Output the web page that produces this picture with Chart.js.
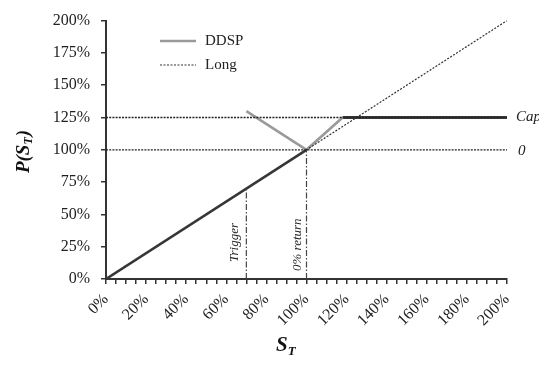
<!DOCTYPE html>
<html>
<head>
<meta charset="utf-8">
<style>
html,body{margin:0;padding:0;background:#fff;}
#wrap{width:539px;height:367px;position:relative;}
</style>
<script src="https://cdn.jsdelivr.net/npm/chart.js@4/dist/chart.umd.min.js"></script>
</head>
<body>
<div id="wrap"><canvas id="c" width="539" height="367"></canvas></div>
<script>
// ---- data ----
const xTickLabels = [0, 20, 40, 60, 80, 100, 120, 140, 160, 180, 200];
const yTickLabels = [0, 25, 50, 75, 100, 125, 150, 175, 200];
const longX = [0, 200];
const longY = [0, 200];
const lowerX = [0, 100];          // dark diagonal (below 0% return)
const lowerY = [0, 100];
const ddspX = [70, 100, 118];     // DDSP grey segment
const ddspY = [130, 100, 125];
const capFlatX = [118, 200];      // DDSP at cap
const capFlatY = [125, 125];
const capLevel = 125;
const zeroLevel = 100;
const triggerX = 70;
const triggerTop = 70;
const zeroRetX = 100;
const zeroRetTop = 100;

const pts = (xs, ys) => xs.map((x, i) => ({x: x, y: ys[i]}));
const SERIF = '"Liberation Serif", "DejaVu Serif", serif';
const DARK = '#3a3a3a';
const GREY = '#9a9a9a';

const datasets = [
  {label: 'capline', data: pts([0, 200], [capLevel, capLevel]), borderColor: '#222', borderWidth: 1.3, borderDash: [2, 1.2]},
  {label: 'zeroline', data: pts([0, 200], [zeroLevel, zeroLevel]), borderColor: '#222', borderWidth: 1.3, borderDash: [2, 1.2]},
  {label: 'trigger', data: pts([triggerX, triggerX], [0, triggerTop]), borderColor: '#444', borderWidth: 1.2, borderDash: [6, 2, 1.5, 2]},
  {label: 'zeroret', data: pts([zeroRetX, zeroRetX], [0, zeroRetTop]), borderColor: '#444', borderWidth: 1.2, borderDash: [6, 2, 1.5, 2]},
  {label: 'Long', data: pts(longX, longY), borderColor: '#333', borderWidth: 1.2, borderDash: [2, 1.5]},
  {label: 'lower', data: pts(lowerX, lowerY), borderColor: DARK, borderWidth: 2.6},
  {label: 'DDSP', data: pts(ddspX, ddspY), borderColor: GREY, borderWidth: 2.6},
  {label: 'capflat', data: pts(capFlatX, capFlatY), borderColor: DARK, borderWidth: 2.8}
];
datasets.forEach(d => { d.showLine = true; d.pointRadius = 0; d.fill = false; d.tension = 0; });

const overlay = {
  id: 'overlay',
  afterDraw(chart) {
    const ctx = chart.ctx;
    const xs = chart.scales.x, ys = chart.scales.y;
    ctx.save();
    ctx.fillStyle = '#222';
    // legend
    const lx0 = 160, lx1 = 196;
    ctx.lineCap = 'butt';
    ctx.strokeStyle = GREY; ctx.lineWidth = 2.6; ctx.setLineDash([]);
    ctx.beginPath(); ctx.moveTo(lx0, 41); ctx.lineTo(lx1, 41); ctx.stroke();
    ctx.strokeStyle = '#333'; ctx.lineWidth = 1.2; ctx.setLineDash([2, 1.5]);
    ctx.beginPath(); ctx.moveTo(lx0, 65); ctx.lineTo(lx1, 65); ctx.stroke();
    ctx.setLineDash([]);
    ctx.font = '15px ' + SERIF;
    ctx.textBaseline = 'middle'; ctx.textAlign = 'left';
    ctx.fillText('DDSP', 205, 41);
    ctx.fillText('Long', 205, 65);
    // right labels
    ctx.font = 'italic 15px ' + SERIF;
    ctx.fillText('Cap', xs.right + 9, ys.getPixelForValue(capLevel));
    ctx.fillText('0', xs.right + 11, ys.getPixelForValue(zeroLevel) + 1);
    // rotated line labels
    ctx.font = 'italic 13px ' + SERIF;
    ctx.save();
    ctx.translate(xs.getPixelForValue(triggerX) - 12, 262);
    ctx.rotate(-Math.PI / 2);
    ctx.textAlign = 'left'; ctx.textBaseline = 'middle';
    ctx.fillText('Trigger', 0, 0);
    ctx.restore();
    ctx.save();
    ctx.translate(xs.getPixelForValue(zeroRetX) - 9, 271);
    ctx.rotate(-Math.PI / 2);
    ctx.textAlign = 'left'; ctx.textBaseline = 'middle';
    ctx.fillText('0% return', 0, 0);
    ctx.restore();
    // axis titles
    ctx.fillStyle = '#111';
    ctx.save();
    ctx.translate(24, 152);
    ctx.rotate(-Math.PI / 2);
    ctx.textBaseline = 'middle'; ctx.textAlign = 'left';
    ctx.font = 'bold italic 19px ' + SERIF;
    const w1 = ctx.measureText('P(S').width;
    ctx.font = 'bold italic 12px ' + SERIF;
    const w2 = ctx.measureText('T').width;
    ctx.font = 'bold italic 19px ' + SERIF;
    const w3 = ctx.measureText(')').width;
    const total = w1 + w2 + w3;
    let sx = -total / 2;
    ctx.fillText('P(S', sx, 0);
    ctx.font = 'bold italic 12px ' + SERIF;
    ctx.fillText('T', sx + w1, 5);
    ctx.font = 'bold italic 19px ' + SERIF;
    ctx.fillText(')', sx + w1 + w2 + 1, 0);
    ctx.restore();
    // x title
    ctx.font = 'bold italic 21px ' + SERIF;
    ctx.textBaseline = 'alphabetic'; ctx.textAlign = 'left';
    ctx.fillText('S', 276, 351);
    const ws = ctx.measureText('S').width;
    ctx.font = 'bold italic 13px ' + SERIF;
    ctx.fillText('T', 276 + ws, 355);
    ctx.restore();
  }
};

new Chart(document.getElementById('c'), {
  type: 'scatter',
  data: {datasets: datasets},
  options: {
    responsive: false,
    animation: false,
    layout: {padding: {left: 0, right: 32, top: 19, bottom: 0}},
    plugins: {legend: {display: false}, tooltip: {enabled: false}},
    scales: {
      x: {
        type: 'linear', min: 0, max: 200,
        afterFit(s) { s.height = 88; },
        afterBuildTicks(s) { const t = []; for (let v = 0; v <= 200; v += 5) t.push({value: v}); s.ticks = t; },
        border: {display: true, color: '#333', width: 2},
        grid: {drawOnChartArea: false, drawTicks: true, tickLength: 5, color: '#333', lineWidth: 1.5},
        ticks: {
          autoSkip: false, maxRotation: 45, minRotation: 45, padding: 6,
          color: '#222', font: {family: SERIF, size: 16},
          callback: v => xTickLabels.includes(v) ? v + '%' : ''
        }
      },
      y: {
        type: 'linear', min: 0, max: 200,
        afterFit(s) { s.width = 106; },
        afterBuildTicks(s) { s.ticks = yTickLabels.map(v => ({value: v})); },
        border: {display: true, color: '#333', width: 2},
        grid: {drawOnChartArea: false, drawTicks: true, tickLength: 5, color: '#333', lineWidth: 1.5},
        ticks: {
          padding: 11, color: '#222', font: {family: SERIF, size: 16},
          callback: v => v + '%'
        }
      }
    }
  },
  plugins: [overlay]
});
</script>
</body>
</html>
